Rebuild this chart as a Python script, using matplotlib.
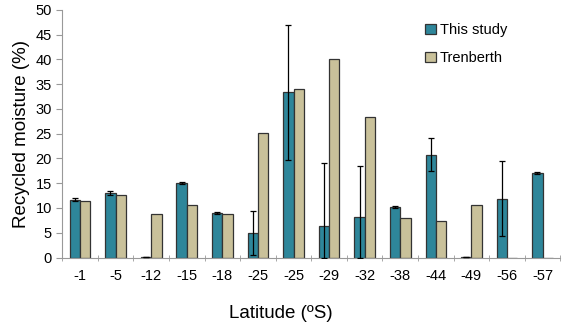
import numpy as np
import matplotlib.pyplot as plt

plt.rcParams['font.family'] = ['Liberation Sans', 'DejaVu Sans']

# latitude groups and recycled moisture values (%)
latitudes = ['-1', '-5', '-12', '-15', '-18', '-25', '-25', '-29', '-32',
             '-38', '-44', '-49', '-56', '-57']
this_study = [11.7, 13.0, 0.1, 15.1, 9.0, 5.0, 33.4, 6.3, 8.2,
              10.2, 20.7, 0.1, 11.9, 17.0]
err_low = [0.3, 0.4, 0.0, 0.2, 0.2, 4.4, 13.7, 6.3, 8.2,
           0.2, 3.3, 0.0, 7.6, 0.2]
err_high = [0.3, 0.4, 0.0, 0.2, 0.2, 4.4, 13.6, 12.8, 10.2,
            0.2, 3.5, 0.0, 7.6, 0.2]
trenberth = [11.4, 12.7, 8.8, 10.6, 8.7, 25.2, 34.0, 40.1, 28.4,
             7.95, 7.4, 10.7, 0, 0]

teal = '#2E869A'
tan = '#C9C19A'

fig, ax = plt.subplots(figsize=(5.66, 3.26), dpi=100)
fig.subplots_adjust(left=0.11, right=0.99, top=0.97, bottom=0.21)

x = np.arange(len(latitudes))
w = 0.29
ax.bar(x - w/2, this_study, w, color=teal, edgecolor='#333333', linewidth=0.9,
       label='This study', zorder=2)
ax.bar(x + w/2, trenberth, w, color=tan, edgecolor='#333333', linewidth=0.9,
       label='Trenberth', zorder=2)
ax.errorbar(x - w/2, this_study, yerr=[err_low, err_high], fmt='none',
            ecolor='black', elinewidth=0.9, capsize=2, capthick=0.9, zorder=3)

ax.set_xlim(-0.5, len(latitudes) - 0.5)
ax.set_ylim(0, 50)
ax.set_yticks(range(0, 51, 5))
ax.set_xticks(x)
ax.set_xticklabels(latitudes)
ax.set_xticks(np.arange(-0.5, len(latitudes), 1), minor=True)
ax.tick_params(axis='x', which='major', length=0, pad=8, labelsize=10.5)
ax.tick_params(axis='x', which='minor', length=4, direction='inout',
               color='#999999')
ax.tick_params(axis='y', length=4, color='#999999', labelsize=10.5)

for s in ['top', 'right']:
    ax.spines[s].set_visible(False)
for s in ['left', 'bottom']:
    ax.spines[s].set_color('#999999')

ax.set_ylabel('Recycled moisture (%)', fontsize=13.5)
ax.set_xlabel('Latitude (ºS)', fontsize=13.5)
ax.xaxis.set_label_coords(0.438, -0.19)

ax.legend(loc='upper right', bbox_to_anchor=(0.92, 1.0), frameon=False,
          fontsize=10.5, handlelength=0.7, handleheight=0.7,
          handletextpad=0.3, labelspacing=1.0)

fig.savefig('out.png', dpi=100)
